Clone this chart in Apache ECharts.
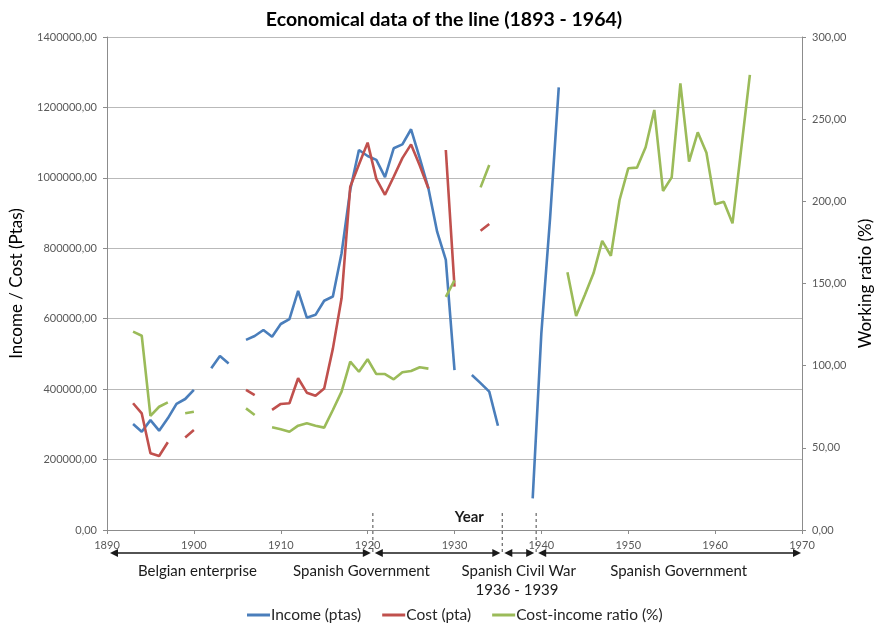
<!DOCTYPE html>
<html>
<head>
<meta charset="utf-8">
<script src="https://cdn.jsdelivr.net/npm/echarts@6/dist/echarts.min.js"></script>
<style>
  html, body { margin: 0; padding: 0; background: #fff; }
  #chart { width: 877px; height: 625px; }
</style>
</head>
<body>
<div id="chart"></div>
<script>
// Operating years of the line (no record kept for 1963)
const years = [
  1893, 1894, 1895, 1896, 1897, 1898, 1899, 1900,
  1901, 1902, 1903, 1904, 1905, 1906, 1907, 1908, 1909, 1910,
  1911, 1912, 1913, 1914, 1915, 1916, 1917, 1918, 1919, 1920,
  1921, 1922, 1923, 1924, 1925, 1926, 1927, 1928, 1929, 1930,
  1931, 1932, 1933, 1934, 1935, 1936, 1937, 1938, 1939, 1940,
  1941, 1942, 1943, 1944, 1945, 1946, 1947, 1948, 1949, 1950,
  1951, 1952, 1953, 1954, 1955, 1956, 1957, 1958, 1959, 1960,
  1961, 1962, 1964
];

// Income (ptas); null = no record, the line breaks there
const income = [
  301000, 279000, 312000, 282000, 317000, 358000, 372000, 398000,
  null, 459000, 494000, 473000, null, 540000, 551000, 568000, 549000, 585000,
  599000, 679000, 603000, 611000, 651000, 663000, 786000, 966000, 1079000, 1062000,
  1051000, 1002000, 1084000, 1095000, 1138000, 1056000, 970000, 847000, 767000, 454000,
  null, 440000, 417000, 393000, 296000, null, null, null, 90000, 560000,
  885000, 1257000, null, null, null, null, null, null, null, null,
  null, null, null, null, null, null, null, null, null, null,
  null, null, null
];

// Cost (pta)
const cost = [
  360000, 331000, 218000, 210000, 249000, null, 263000, 284000,
  null, null, null, null, null, 398000, 383000, null, 341000, 358000,
  360000, 431000, 390000, 381000, 402000, 515000, 658000, 975000, 1038000, 1100000,
  997000, 952000, 1003000, 1056000, 1095000, 1035000, 970000, null, 1079000, 691000,
  null, null, 850000, 869000, null, null, null, null, null, null,
  null, null, null, null, null, null, null, null, null, null,
  null, null, null, null, null, null, null, null, null, null,
  null, null, null
];

// Cost-income ratio (%)
const ratio = [
  120.7, 118.2, 69.4, 75.0, 77.7, null, 71.0, 72.0,
  null, null, null, null, null, 74.0, 70.0, null, 62.5, 61.3,
  59.8, 63.5, 64.9, 63.5, 62.3, 73.0, 84.2, 102.4, 96.3, 103.9,
  94.9, 94.9, 91.7, 96.0, 96.8, 99.0, 98.2, null, 141.8, 151.9,
  null, null, 208.5, 222.1, null, null, null, null, null, null,
  null, null, 156.8, 130.2, 143.0, 156.2, 175.9, 166.9, 200.8, 220.1,
  220.5, 232.9, 255.6, 206.3, 214.6, 271.8, 224.1, 242.0, 229.6, 198.2,
  199.8, 186.6, 276.9
];

// Periods of management shown under the time axis
const periodBounds = [1890, 1920.6, 1935.5, 1939.4, 1970];
const periodNames = ['Belgian enterprise', 'Spanish Government', 'Spanish Civil War', 'Spanish Government'];
const periodLabelYears = [1900.4, 1919.3, 1937.4, 1955.8];
const civilWarYears = '1936 - 1939';

const FONT = 'Lato, "Open Sans", sans-serif';
const AXIS_GREY = '#8c8c8c';
const LABEL_GREY = '#595959';

const pairs = vals => years.map((y, i) => [y, vals[i]]);
const decimalComma = v => v.toFixed(2).replace('.', ',');

const chart = echarts.init(document.getElementById('chart'), null, { renderer: 'canvas' });

const option = {
  animation: false,
  backgroundColor: '#fff',
  textStyle: { fontFamily: FONT },
  title: {
    text: 'Economical data of the line (1893 - 1964)',
    left: 439, textAlign: 'center', top: 5,
    textStyle: { fontFamily: FONT, fontSize: 19.5, fontWeight: 'bold', color: '#000' }
  },
  legend: {
    left: 242, top: 602,
    icon: 'rect', itemWidth: 23, itemHeight: 3, itemGap: 21,
    textStyle: { fontFamily: FONT, fontSize: 15.5, color: '#262626', padding: [0, 0, 0, -4] },
    data: ['Income (ptas)', 'Cost (pta)', 'Cost-income ratio (%)']
  },
  grid: { left: 107, right: 75, top: 37, bottom: 95, containLabel: false, outerBoundsMode: 'none' },
  xAxis: {
    type: 'value', min: 1890, max: 1970, interval: 10,
    axisLine: { lineStyle: { color: AXIS_GREY, width: 1 } },
    axisTick: { show: true, inside: false, length: 4, lineStyle: { color: AXIS_GREY } },
    axisLabel: { fontFamily: FONT, fontSize: 11, color: LABEL_GREY, margin: 10, formatter: v => String(v) },
    splitLine: { show: false }
  },
  yAxis: [
    {
      type: 'value', min: 0, max: 1400000, interval: 200000, position: 'left',
      name: 'Income / Cost (Ptas)', nameLocation: 'middle', nameRotate: 90, nameGap: 82,
      nameTextStyle: { fontFamily: FONT, fontSize: 17, color: '#000' },
      axisLine: { show: true, lineStyle: { color: AXIS_GREY, width: 1 } },
      axisTick: { show: true, length: 4, lineStyle: { color: AXIS_GREY } },
      axisLabel: { fontFamily: FONT, fontSize: 11, color: LABEL_GREY, margin: 10, formatter: decimalComma },
      splitLine: { show: true, lineStyle: { color: '#b9b9b9', width: 1.2 } }
    },
    {
      type: 'value', min: 0, max: 300, interval: 50, position: 'right',
      name: 'Working ratio (%)', nameLocation: 'middle', nameRotate: 90, nameGap: 54,
      nameTextStyle: { fontFamily: FONT, fontSize: 17, color: '#000' },
      axisLine: { show: true, lineStyle: { color: AXIS_GREY, width: 1 } },
      axisTick: { show: true, length: 4, lineStyle: { color: AXIS_GREY } },
      axisLabel: { fontFamily: FONT, fontSize: 11, color: LABEL_GREY, margin: 10, formatter: decimalComma },
      splitLine: { show: false }
    }
  ],
  series: [
    {
      name: 'Income (ptas)', type: 'line', yAxisIndex: 0, data: pairs(income),
      showSymbol: false, connectNulls: false, color: '#4a7ebb',
      lineStyle: { width: 2.6, color: '#4a7ebb' }
    },
    {
      name: 'Cost (pta)', type: 'line', yAxisIndex: 0, data: pairs(cost),
      showSymbol: false, connectNulls: false, color: '#c0504d',
      lineStyle: { width: 2.6, color: '#c0504d' }
    },
    {
      name: 'Cost-income ratio (%)', type: 'line', yAxisIndex: 1, data: pairs(ratio),
      showSymbol: false, connectNulls: false, color: '#9bbb59',
      lineStyle: { width: 2.6, color: '#9bbb59' }
    }
  ]
};

chart.setOption(option);

// Timeline of management periods, placed with the chart's own x scale
const xPix = yr => chart.convertToPixel({ xAxisIndex: 0 }, yr);
const axisY = chart.convertToPixel({ yAxisIndex: 0 }, 0);
const arrowY = axisY + 23;
const ink = '#1a1a1a';
const g = [];

// dashed separators between periods
periodBounds.slice(1, -1).forEach(b => {
  const x = xPix(b);
  g.push({
    type: 'line', silent: true,
    shape: { x1: x, y1: axisY - 17, x2: x, y2: arrowY + 2 },
    style: { stroke: '#666', lineWidth: 1.2, lineDash: [3, 3] }
  });
});

// double-headed arrows spanning each period
for (let i = 0; i < periodBounds.length - 1; i++) {
  const a = xPix(periodBounds[i]) + (i === 0 ? 3 : 2);
  const b = xPix(periodBounds[i + 1]) - (i === periodBounds.length - 2 ? 1 : 2);
  g.push({
    type: 'line', silent: true,
    shape: { x1: a + 4, y1: arrowY, x2: b - 4, y2: arrowY },
    style: { stroke: ink, lineWidth: 1.3 }
  });
  g.push({
    type: 'polygon', silent: true,
    shape: { points: [[a, arrowY], [a + 8, arrowY - 4], [a + 8, arrowY + 4]] },
    style: { fill: ink }
  });
  g.push({
    type: 'polygon', silent: true,
    shape: { points: [[b, arrowY], [b - 8, arrowY - 4], [b - 8, arrowY + 4]] },
    style: { fill: ink }
  });
}

// period names
periodNames.forEach((name, i) => {
  g.push({
    type: 'text', silent: true,
    x: xPix(periodLabelYears[i]), y: arrowY + 18,
    style: { text: name, fill: '#1a1a1a', font: '15px ' + FONT, textAlign: 'center', textVerticalAlign: 'middle' }
  });
});
g.push({
  type: 'text', silent: true,
  x: xPix(1937.2), y: arrowY + 37,
  style: { text: civilWarYears, fill: '#1a1a1a', font: '15px ' + FONT, textAlign: 'center', textVerticalAlign: 'middle' }
});

// axis caption sitting just above the time axis
g.push({
  type: 'text', silent: true,
  x: xPix(1931.7), y: axisY - 13,
  style: { text: 'Year', fill: '#1a1a1a', font: 'bold 15px ' + FONT, textAlign: 'center', textVerticalAlign: 'middle' }
});

chart.setOption({ graphic: g });
</script>
</body>
</html>
